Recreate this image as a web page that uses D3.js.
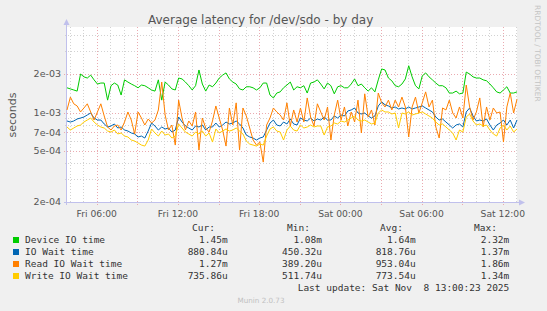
<!DOCTYPE html>
<html><head><meta charset="utf-8">
<script src="https://cdn.jsdelivr.net/npm/d3@7"></script>
<style>body{margin:0;background:#f0f0f0;} svg{display:block}</style>
</head><body><svg id="c" width="547" height="311"></svg>
<script>
// ---- data (values in milliseconds, 15-minute steps) ----
const seriesNames = ["Device IO time", "IO Wait time", "Read IO Wait time", "Write IO Wait time"];
const seriesColors = ["#00cc00", "#0066b3", "#ff8000", "#ffcc00"];
const startTime = Date.UTC(2025, 10, 7, 3, 48);
const stepMinutes = 15;

const deviceMs = [
1.56,1.53,1.50,1.47,2.00,1.90,1.86,1.96,1.80,1.67,
1.70,1.70,1.25,1.62,1.70,1.64,1.37,1.80,1.73,1.67,
1.62,1.56,1.64,1.62,1.56,1.50,1.47,1.80,1.25,1.73,
1.64,1.53,1.50,1.86,1.83,1.73,1.62,1.50,1.62,2.15,
1.67,1.47,1.64,1.59,1.70,1.86,1.96,2.04,1.83,1.73,
1.67,1.53,1.50,1.59,1.59,1.56,1.50,1.56,1.70,1.70,
1.37,1.30,1.42,1.45,1.56,1.64,1.73,1.50,1.59,1.56,
1.62,1.42,1.70,1.73,1.80,1.67,1.53,1.70,1.62,1.40,
1.59,1.62,1.56,1.56,1.67,1.83,1.62,1.67,1.56,1.47,
1.56,1.45,1.80,2.19,2.15,1.86,1.77,1.62,1.59,1.67,
1.83,2.32,1.90,1.62,1.53,1.93,2.04,1.90,1.80,1.70,
1.62,1.62,1.56,1.42,1.42,1.47,1.40,1.42,2.07,2.00,
1.90,1.86,1.86,1.80,1.77,1.67,1.56,1.45,1.42,1.50,
1.59,1.42,1.42,1.45];

const ioWaitMs = [
0.859,0.843,0.859,0.890,0.906,0.923,0.957,0.992,0.906,0.874,
0.874,0.814,0.771,0.785,0.814,0.757,0.771,0.730,0.717,0.692,
0.680,0.644,0.655,0.632,0.717,0.828,0.785,0.730,0.771,0.744,
0.757,0.704,0.730,0.923,0.843,0.785,0.757,0.730,0.785,0.771,
0.799,0.730,0.771,0.771,0.828,0.771,0.799,0.843,0.814,0.828,
0.859,0.814,0.757,0.667,0.644,0.632,0.610,0.632,0.644,0.730,
0.828,0.874,0.799,0.785,0.843,0.814,0.890,0.814,0.799,0.906,
0.874,0.859,0.906,0.859,0.890,0.874,0.923,0.874,0.874,0.940,
0.906,0.957,0.940,1.028,1.047,1.085,0.992,0.974,0.992,0.940,
0.906,0.940,1.125,1.21,1.15,1.125,1.085,1.105,1.066,1.085,
1.066,1.105,1.066,1.085,1.105,1.125,1.085,1.047,1.01,0.923,
0.874,0.890,0.843,0.799,0.757,0.799,0.814,0.771,1.01,1.085,
0.940,0.859,0.874,0.859,0.890,0.799,0.730,0.799,0.828,0.874,
0.799,0.874,0.757,0.874];

const readMs = [
1.047,1.32,1.17,1.125,1.01,1.085,1.17,1.01,0.874,1.01,
1.17,0.940,0.771,0.730,0.785,0.799,0.730,0.843,1.01,0.874,
0.680,1.01,0.906,0.799,0.890,0.828,0.874,1.047,1.73,0.957,
0.730,0.799,0.557,1.25,0.906,0.730,0.859,0.785,1.01,0.509,
0.906,0.757,0.704,0.859,1.125,0.906,0.730,0.547,1.085,0.799,
1.19,0.509,1.085,0.940,0.757,0.610,0.557,0.588,0.410,0.799,
0.906,1.085,1.01,0.957,0.874,1.19,0.785,1.047,0.843,1.085,
0.843,1.30,0.923,0.785,1.17,1.01,0.874,1.105,0.610,0.957,
1.25,0.874,1.105,0.785,1.01,0.843,1.25,0.692,1.40,0.923,
1.047,0.799,1.42,1.19,1.105,1.25,1.047,1.25,1.105,1.32,
1.105,0.644,1.105,1.32,0.992,1.19,1.45,1.105,1.25,0.771,
0.632,1.085,1.047,1.25,0.992,0.906,1.105,0.906,1.64,1.105,
0.874,1.01,1.30,0.771,1.105,0.874,1.085,0.992,1.01,0.588,
1.105,1.42,0.992,1.27];

const writeMs = [
0.771,0.730,0.757,0.785,0.799,0.843,0.874,0.906,0.843,0.799,
0.771,0.757,0.717,0.704,0.730,0.680,0.692,0.655,0.644,0.610,
0.599,0.578,0.557,0.547,0.610,0.744,0.692,0.655,0.717,0.667,
0.680,0.632,0.655,0.814,0.757,0.704,0.680,0.655,0.704,0.680,
0.717,0.655,0.692,0.588,0.744,0.692,0.717,0.744,0.717,0.730,
0.757,0.717,0.680,0.599,0.567,0.557,0.547,0.567,0.557,0.655,
0.744,0.771,0.717,0.704,0.610,0.730,0.785,0.730,0.717,0.799,
0.757,0.771,0.799,0.771,0.785,0.785,0.667,0.771,0.785,0.828,
0.814,0.859,0.843,0.874,0.906,0.940,0.874,0.859,0.874,0.843,
0.814,0.828,0.992,1.047,1.01,1.01,0.974,0.992,0.757,0.992,
0.974,1.01,0.957,0.974,0.992,1.01,0.974,0.940,0.906,0.843,
0.799,0.814,0.771,0.730,0.692,0.610,0.730,0.704,0.923,0.974,
0.859,0.799,0.814,0.785,0.799,0.730,0.680,0.655,0.757,0.799,
0.730,0.785,0.704,0.744];

const statHeaders = ["Cur:", "Min:", "Avg:", "Max:"];
const statCur = ["1.45m", "880.84u", "1.27m", "735.86u"];
const statMin = ["1.08m", "450.32u", "389.20u", "511.74u"];
const statAvg = ["1.64m", "818.76u", "953.04u", "773.54u"];
const statMax = ["2.32m", "1.37m", "1.86m", "1.34m"];

const yMajorTicks = [2e-3, 1e-3, 7e-4, 5e-4, 2e-4];
const yMinorTicks = [3e-4, 4e-4, 6e-4, 8e-4, 9e-4, 3e-3, 4e-3];
const yTickLabels = ["2e-03", "1e-03", "7e-04", "5e-04", "2e-04"];

const titleText = "Average latency for /dev/sdo - by day";
const lastUpdate = "Last update: Sat Nov  8 13:00:23 2025";

// ---- drawing ----
const svg = d3.select("#c");
const L = 67, R = 517, T = 27, B = 202;
const allSeries = [deviceMs, ioWaitMs, readMs, writeMs];
const nPts = deviceMs.length;
const times = d3.range(nPts).map(i => new Date(startTime + i * stepMinutes * 60000));

const x = d3.scaleUtc().domain([times[0], times[nPts - 1]]).range([L, R]);
const y = d3.scaleLog().domain([2e-4, 2e-4 * Math.pow(10, (B - T) / 128)]).range([B, T]);

svg.append("rect").attr("width", 547).attr("height", 311).attr("fill", "#f0f0f0");
svg.append("rect").attr("x", L).attr("y", T).attr("width", R - L).attr("height", B - T).attr("fill", "#ffffff");

const minorCol = "#d2d2d2";
const majorCol = "#eaaab0";
const grid = svg.append("g").attr("shape-rendering", "crispEdges");

const hourTicks = x.ticks(d3.utcHour.every(1));
const major3 = hourTicks.filter(d => d.getUTCHours() % 3 === 0);
const minorH = hourTicks.filter(d => d.getUTCHours() % 3 !== 0);

grid.selectAll(".vmin").data(minorH).join("line")
  .attr("x1", d => Math.round(x(d)) + 0.5).attr("x2", d => Math.round(x(d)) + 0.5)
  .attr("y1", T).attr("y2", B + 2).attr("stroke", minorCol).attr("stroke-dasharray", "1,2");
grid.selectAll(".hmin").data(yMinorTicks).join("line")
  .attr("x1", L - 2).attr("x2", R).attr("y1", d => Math.round(y(d)) + 0.5).attr("y2", d => Math.round(y(d)) + 0.5)
  .attr("stroke", minorCol).attr("stroke-dasharray", "1,2");
grid.selectAll(".vmaj").data(major3).join("line")
  .attr("x1", d => Math.round(x(d)) + 0.5).attr("x2", d => Math.round(x(d)) + 0.5)
  .attr("y1", T).attr("y2", B + 3).attr("stroke", majorCol).attr("stroke-dasharray", "1,2");
grid.selectAll(".hmaj").data(yMajorTicks).join("line")
  .attr("x1", L - 3).attr("x2", R).attr("y1", d => Math.round(y(d)) + 0.5).attr("y2", d => Math.round(y(d)) + 0.5)
  .attr("stroke", majorCol).attr("stroke-dasharray", "1,2");

// axes lines with arrows
const axisCol = "#c0c0ec";
svg.append("line").attr("x1", L - 0.5).attr("x2", L - 0.5).attr("y1", B + 3).attr("y2", T - 4)
  .attr("stroke", axisCol).attr("stroke-width", 1);
svg.append("line").attr("x1", L - 3).attr("x2", R + 3).attr("y1", B + 0.5).attr("y2", B + 0.5)
  .attr("stroke", axisCol).attr("stroke-width", 1);
svg.append("path").attr("d", `M${L - 3.5},${T - 2} L${L + 2.5},${T - 2} L${L - 0.5},${T - 8} Z`).attr("fill", axisCol);
svg.append("path").attr("d", `M${R + 2},${B - 2.5} L${R + 2},${B + 3.5} L${R + 8},${B + 0.5} Z`).attr("fill", axisCol);

// series
const line = d3.line().x((d, i) => x(times[i])).y(d => y(d * 1e-3));
allSeries.forEach((s, k) => {
  svg.append("path").datum(s).attr("d", line).attr("fill", "none")
    .attr("stroke", seriesColors[k]).attr("stroke-width", 1).attr("stroke-linejoin", "round");
});

// axis labels
const axisFont = "DejaVu Sans";
svg.selectAll(".ylab").data(yMajorTicks).join("text")
  .attr("x", 61).attr("y", d => y(d)).attr("dy", "0.36em").attr("text-anchor", "end")
  .attr("font-family", axisFont).attr("font-size", 9.5).attr("fill", "#555")
  .text((d, i) => yTickLabels[i]);

const labelTicks = x.ticks(d3.utcHour.every(6));
const fmt = d3.utcFormat("%a %H:%M");
svg.selectAll(".xlab").data(labelTicks).join("text")
  .attr("x", d => x(d)).attr("y", 216.5).attr("text-anchor", "middle")
  .attr("font-family", axisFont).attr("font-size", 9.2).attr("fill", "#555")
  .text(d => fmt(d));

svg.append("text").attr("x", 148).attr("y", 24).attr("font-family", axisFont).attr("font-size", 12)
  .attr("fill", "#555").text(titleText);

svg.append("text").attr("transform", "translate(15.5,115) rotate(-90)").attr("text-anchor", "middle")
  .attr("font-family", axisFont).attr("font-size", 11).attr("fill", "#555").text("seconds");

svg.append("text").attr("transform", "translate(535,5) rotate(90)").attr("text-anchor", "start")
  .attr("font-family", axisFont).attr("font-size", 7.5).attr("fill", "#c4c4c4").text("RRDTOOL / TOBI OETIKER");

// legend
const mono = "DejaVu Sans Mono";
const legFs = 9.5;
const colEnds = [227.7, 322, 415.7, 509.3];
const headEnds = [215, 310, 403, 497];
const leg = svg.append("g").attr("font-family", mono).attr("font-size", legFs).attr("fill", "#333");
leg.selectAll(".hd").data(statHeaders).join("text")
  .attr("x", (d, i) => headEnds[i]).attr("y", 231).attr("text-anchor", "end").text(d => d);
const statCols = [statCur, statMin, statAvg, statMax];
seriesNames.forEach((name, k) => {
  const by = 243 + k * 12;
  leg.append("rect").attr("x", 13).attr("y", by - 6).attr("width", 6).attr("height", 6).attr("fill", seriesColors[k]);
  leg.append("text").attr("x", 25).attr("y", by).text(name);
  statCols.forEach((col, c) => {
    leg.append("text").attr("x", colEnds[c]).attr("y", by).attr("text-anchor", "end").text(col[k]);
  });
});
leg.append("text").attr("x", 509.3).attr("y", 291).attr("text-anchor", "end")
  .style("white-space", "pre").text(lastUpdate);

svg.append("text").attr("x", 261).attr("y", 303).attr("text-anchor", "middle")
  .attr("font-family", axisFont).attr("font-size", 7.2).attr("fill", "#c0c0c0").text("Munin 2.0.73");
</script></body></html>
